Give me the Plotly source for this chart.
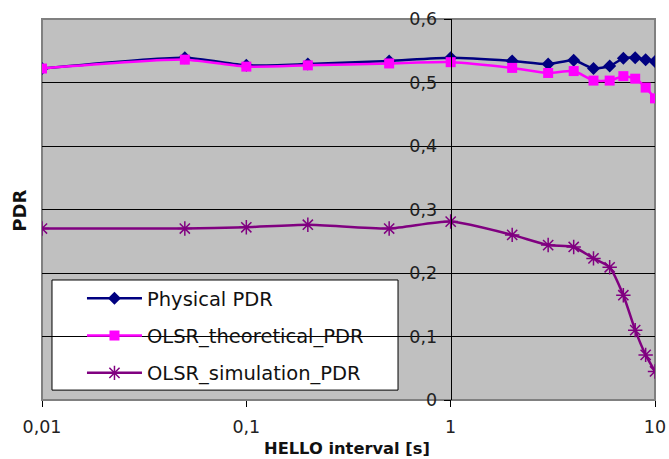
import plotly.graph_objects as go

hello_interval = [0.01, 0.05, 0.1, 0.2, 0.5, 1, 2, 3, 4, 5, 6, 7, 8, 9, 10]
physical_pdr = [0.522, 0.539, 0.527, 0.529, 0.534, 0.539, 0.534, 0.529, 0.535, 0.522, 0.526, 0.538, 0.539, 0.536, 0.533]
olsr_theoretical_pdr = [0.522, 0.536, 0.525, 0.527, 0.530, 0.532, 0.523, 0.515, 0.518, 0.503, 0.503, 0.510, 0.506, 0.492, 0.475]
olsr_simulation_pdr = [0.270, 0.270, 0.272, 0.276, 0.270, 0.281, 0.260, 0.244, 0.241, 0.223, 0.209, 0.165, 0.110, 0.071, 0.045]

x_tickvals = [0.01, 0.1, 1, 10]
x_ticktext = ["0,01", "0,1", "1", "10"]
y_tickvals = [0, 0.1, 0.2, 0.3, 0.4, 0.5, 0.6]

FONT = "DejaVu Sans, Verdana, sans-serif"

fig = go.Figure()
fig.add_trace(go.Scatter(
    x=hello_interval, y=physical_pdr, name="Physical PDR", mode="lines+markers",
    line=dict(color="#000080", width=2.5, shape="spline", smoothing=0.6),
    marker=dict(symbol="diamond", size=10, color="#000080"), legendgroup="a"))
fig.add_trace(go.Scatter(
    x=hello_interval, y=olsr_theoretical_pdr, name="OLSR_theoretical_PDR", mode="lines+markers",
    line=dict(color="#FF00FF", width=2.5, shape="spline", smoothing=0.6),
    marker=dict(symbol="square", size=10, color="#FF00FF"), legendgroup="b"))
fig.add_trace(go.Scatter(
    x=hello_interval, y=olsr_simulation_pdr, name="OLSR_simulation_PDR", mode="lines+markers",
    line=dict(color="#800080", width=2.5, shape="spline", smoothing=0.6),
    marker=dict(symbol="asterisk-open", size=12, color="#800080", line=dict(color="#800080", width=1.5)),
    legendgroup="c"))

fig.update_layout(
    width=669, height=459,
    margin=dict(l=42, r=14, t=19, b=59),
    paper_bgcolor="white", plot_bgcolor="#C0C0C0",
    separators=", ",
    font=dict(family=FONT, size=17.5, color="#222222"),
    showlegend=True,
    legend=dict(x=0.0652, y=0.3176, xanchor="left", yanchor="top",
                bgcolor="rgba(0,0,0,0)", borderwidth=0,
                font=dict(family=FONT, size=19.5, color="#111111"),
                traceorder="grouped", tracegroupgap=9, itemwidth=55),
    xaxis=dict(type="log", range=[-2, 1], tickvals=x_tickvals, ticktext=x_ticktext,
               showgrid=False, zeroline=False, showline=False, automargin=False,
               ticks="outside", ticklen=6, tickcolor="black", tickwidth=1,
               ticklabelstandoff=5),
    yaxis=dict(range=[0, 0.6], tickvals=y_tickvals, anchor="free", position=2/3,
               showgrid=True, gridcolor="black", gridwidth=1, zeroline=False,
               showline=True, linecolor="black", linewidth=1, automargin=False,
               ticks="outside", ticklen=7, tickcolor="black", tickwidth=1,
               ticklabelstandoff=3),
    annotations=[
        dict(text="<b>PDR</b>", xref="paper", yref="paper", x=-0.0359, y=0.497,
             xanchor="center", yanchor="middle", textangle=-90, showarrow=False,
             font=dict(family=FONT, size=18, color="#111111")),
        dict(text="<b>HELLO interval [s]</b>", xref="paper", yref="paper", x=0.4976, y=-0.1286,
             xanchor="center", yanchor="middle", showarrow=False,
             font=dict(family=FONT, size=16.3, color="#111111")),
    ],
    shapes=[
        dict(type="rect", xref="paper", yref="paper", x0=0, x1=1, y0=0, y1=1,
             line=dict(color="#808080", width=2), layer="between"),
        dict(type="rect", xref="paper", yref="paper", x0=0.0163, x1=0.5808, y0=0.026, y1=0.315,
             line=dict(color="black", width=1), fillcolor="white", layer="between"),
    ],
)

fig.write_html("out.html")
